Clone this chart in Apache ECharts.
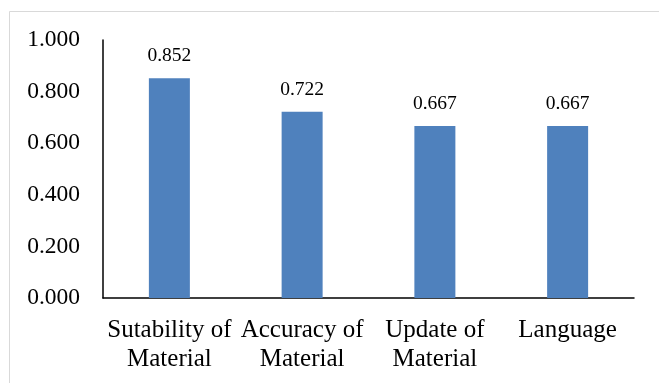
<!DOCTYPE html>
<html>
<head>
<meta charset="utf-8">
<script src="https://cdn.jsdelivr.net/npm/echarts@6/dist/echarts.min.js"></script>
<style>
  html, body { margin: 0; padding: 0; background: #fff; }
  #chart { width: 659px; height: 383px; }
</style>
</head>
<body>
<div id="chart"></div>
<script>
const categories = ['Sutability of\nMaterial', 'Accuracy of\nMaterial', 'Update of\nMaterial', 'Language'];
const scores = [0.852, 0.722, 0.667, 0.667];
const yTicks = { min: 0, max: 1, interval: 0.2 };

const serif = '"Liberation Serif", "DejaVu Serif", serif';
const chart = echarts.init(document.getElementById('chart'), null, { renderer: 'canvas' });

chart.setOption({
  animation: false,
  backgroundColor: '#ffffff',
  graphic: [{
    type: 'rect',
    shape: { x: 9.5, y: 11.5, width: 700, height: 400 },
    style: { fill: 'none', stroke: '#d9d9d9', lineWidth: 1 },
    silent: true
  }],
  grid: { left: 103, right: 25, top: 40, bottom: 85 },
  xAxis: {
    type: 'category',
    data: categories,
    axisLine: { lineStyle: { color: '#000', width: 1.5 } },
    axisTick: { show: false },
    axisLabel: {
      color: '#000',
      fontFamily: serif,
      fontSize: 25,
      lineHeight: 29,
      margin: 18,
      interval: 0
    }
  },
  yAxis: {
    type: 'value',
    min: yTicks.min,
    max: yTicks.max,
    interval: yTicks.interval,
    axisLine: { show: true, lineStyle: { color: '#000', width: 1.5 } },
    axisTick: { show: false },
    splitLine: { show: false },
    axisLabel: {
      color: '#000',
      fontFamily: serif,
      fontSize: 23.5,
      margin: 23,
      formatter: v => v.toFixed(3)
    }
  },
  series: [{
    type: 'bar',
    data: scores,
    barWidth: 41,
    itemStyle: { color: '#4F81BD' },
    label: {
      show: true,
      position: 'top',
      distance: 12,
      color: '#000',
      fontFamily: serif,
      fontSize: 19.5,
      formatter: p => p.value.toFixed(3)
    }
  }]
});
</script>
</body>
</html>
